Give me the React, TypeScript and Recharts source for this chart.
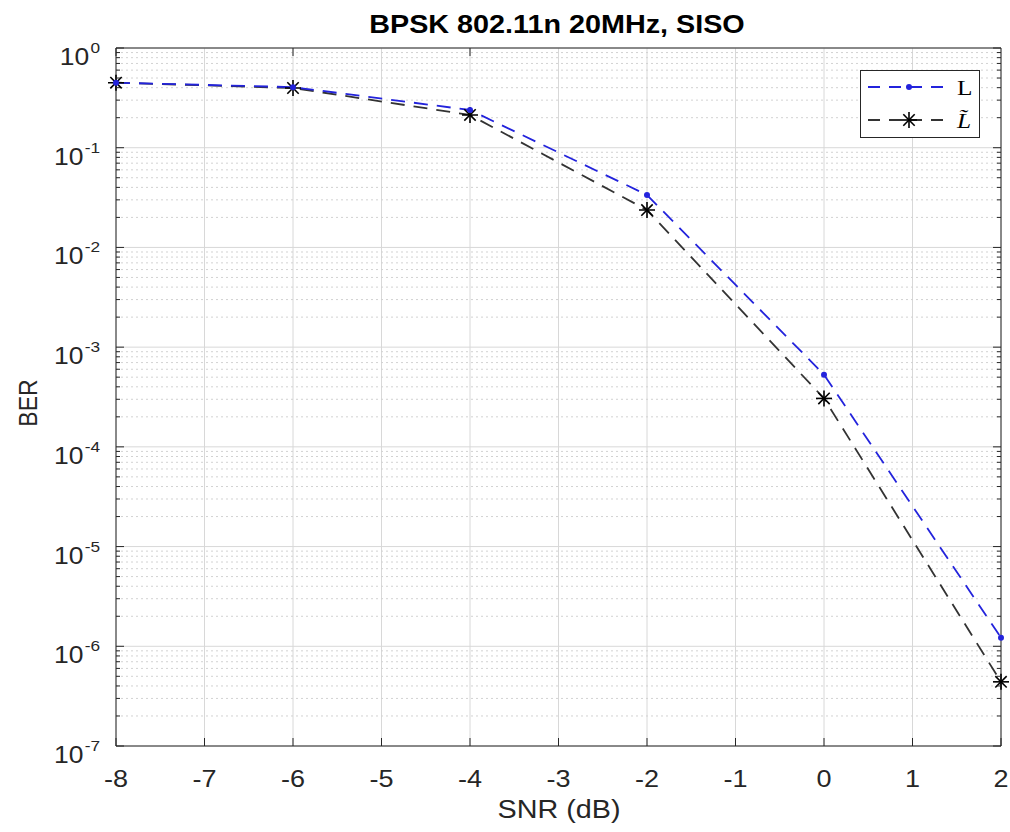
import { LineChart, Line, XAxis, YAxis, CartesianGrid, ReferenceLine } from 'recharts';

// BER vs SNR
const snr = [-8, -6, -4, -2, 0, 2];
const berL = [0.449, 0.405, 0.239, 0.0336, 5.3e-4, 1.22e-6];
const berLTilde = [0.449, 0.397, 0.213, 0.0237, 3.06e-4, 4.4e-7];

const xTicks = [-8, -7, -6, -5, -4, -3, -2, -1, 0, 1, 2];
const yMajor = [1e-7, 1e-6, 1e-5, 1e-4, 1e-3, 1e-2, 1e-1, 1];
const mantissas = [2, 3, 4, 5, 6, 7, 8, 9];
const yMinor = yMajor.slice(0, -1).flatMap((d) => mantissas.map((m) => m * d));
const yAll = [...yMajor, ...yMinor];

const data = snr.map((s, i) => ({ snr: s, L: berL[i], Lt: berLTilde[i] }));

const W = 1010, H = 832;
const LEFT = 116, RIGHT = 1001, TOP = 48, BOTTOM = 746;
const FONT = '"Liberation Sans", Arial, Helvetica, sans-serif';
const SERIF = '"Liberation Serif", "Times New Roman", serif';
const AX = '#262626';
const BLUE = '#2323dc';
const DASH = '14 9';
const SX = 1.15; // the figure's text is a bit wider than tall

const isMajor = (v: number) => Math.abs(Math.log10(v) - Math.round(Math.log10(v))) < 1e-9;

const LeftTick = ({ y, payload }: any) => {
  const v = payload.value;
  const major = isMajor(v);
  return (
    <g>
      <line x1={LEFT} x2={LEFT + (major ? 8 : 4)} y1={y} y2={y} stroke={AX} />
      {major && (
        <text transform={`translate(${LEFT - 16} ${y + 17}) scale(${SX} 1)`} textAnchor="end" fontFamily={FONT} fontSize={23} fill={AX}>
          10<tspan dy={-12} dx={1} fontSize={15}>{Math.round(Math.log10(v))}</tspan>
        </text>
      )}
    </g>
  );
};

const RightTick = ({ y, payload }: any) => {
  const major = isMajor(payload.value);
  return <line x1={RIGHT} x2={RIGHT - (major ? 8 : 4)} y1={y} y2={y} stroke={AX} />;
};

const BottomTick = ({ x, payload }: any) => (
  <g>
    <line x1={x} x2={x} y1={BOTTOM} y2={BOTTOM - 8} stroke={AX} />
    <text transform={`translate(${x} 787) scale(${SX} 1)`} textAnchor="middle" fontFamily={FONT} fontSize={23.5} fill={AX}>{payload.value}</text>
  </g>
);

const TopTick = ({ x }: any) => <line x1={x} x2={x} y1={TOP} y2={TOP + 8} stroke={AX} />;

const Star = ({ cx, cy }: any) => {
  if (cx == null || cy == null) return null;
  const r = 8, d = 5.7;
  return (
    <g stroke="#000" strokeWidth={1.6}>
      <line x1={cx - r} x2={cx + r} y1={cy} y2={cy} />
      <line x1={cx} x2={cx} y1={cy - r} y2={cy + r} />
      <line x1={cx - d} x2={cx + d} y1={cy - d} y2={cy + d} />
      <line x1={cx - d} x2={cx + d} y1={cy + d} y2={cy - d} />
    </g>
  );
};

const Dot = ({ cx, cy }: any) => {
  if (cx == null || cy == null) return null;
  return <circle cx={cx} cy={cy} r={3} fill={BLUE} />;
};

export default function App() {
  return (
    <div style={{ position: 'absolute', left: 0, top: 0, width: W, height: H, background: '#fff' }}>
      <LineChart width={W} height={H} data={data} margin={{ top: TOP - 1, right: W - RIGHT - 1, bottom: 0, left: 0 }}>
        {yMinor.map((v) => (
          <ReferenceLine key={'mn' + v} y={v} stroke="#d2d2d2" strokeDasharray="2 3" />
        ))}
        {yMajor.map((v) => (
          <ReferenceLine key={'mj' + v} y={v} stroke="#d8d8d8" />
        ))}
        <CartesianGrid horizontal={false} stroke="#d8d8d8" />
        <XAxis
          dataKey="snr"
          type="number"
          domain={[-8, 2]}
          ticks={xTicks}
          interval={0}
          height={H - BOTTOM}
          tickLine={false}
          tick={<BottomTick />}
          axisLine={{ stroke: AX }}
        />
        <XAxis
          xAxisId="top"
          orientation="top"
          type="number"
          domain={[-8, 2]}
          ticks={xTicks}
          interval={0}
          height={1}
          tickLine={false}
          tick={<TopTick />}
          axisLine={{ stroke: AX }}
        />
        <YAxis
          scale="log"
          type="number"
          domain={[1e-7, 1]}
          allowDataOverflow
          ticks={yAll}
          interval={0}
          width={LEFT}
          tickLine={false}
          tick={<LeftTick />}
          axisLine={{ stroke: AX }}
        />
        <YAxis
          yAxisId="right"
          orientation="right"
          scale="log"
          type="number"
          domain={[1e-7, 1]}
          allowDataOverflow
          ticks={yAll}
          interval={0}
          width={1}
          tickLine={false}
          tick={<RightTick />}
          axisLine={{ stroke: AX }}
        />
        <Line
          dataKey="Lt"
          stroke="#333"
          strokeWidth={1.8}
          strokeDasharray={DASH}
          dot={<Star />}
          activeDot={false}
          isAnimationActive={false}
        />
        <Line
          dataKey="L"
          stroke={BLUE}
          strokeWidth={1.8}
          strokeDasharray={DASH}
          dot={<Dot />}
          activeDot={false}
          isAnimationActive={false}
        />
      </LineChart>
      <svg width={W} height={H} style={{ position: 'absolute', left: 0, top: 0, pointerEvents: 'none' }}>
        <text transform={`translate(557 33) scale(${SX} 1)`} textAnchor="middle" fontFamily={FONT} fontSize={25} fontWeight="bold" fill="#000">
          BPSK 802.11n 20MHz, SISO
        </text>
        <text transform={`translate(559 818) scale(${SX} 1)`} textAnchor="middle" fontFamily={FONT} fontSize={25} fill={AX}>SNR (dB)</text>
        <text transform={`translate(37 403) scale(${SX} 1) rotate(-90)`} textAnchor="middle" fontFamily={FONT} fontSize={23} fill={AX}>BER</text>
        <g transform="translate(860,70)">
          <rect x={0.5} y={0.5} width={119} height={67} fill="#fff" stroke={AX} />
          <line x1={8} x2={90} y1={17} y2={17} stroke={BLUE} strokeWidth={1.8} strokeDasharray="12 9" />
          <circle cx={49} cy={17} r={3} fill={BLUE} />
          <text transform={`translate(97 25) scale(${SX} 1)`} fontFamily={SERIF} fontSize={22} fill="#000">L</text>
          <line x1={8} x2={90} y1={50} y2={50} stroke="#333" strokeWidth={1.8} strokeDasharray="12 9" />
          <Star cx={49} cy={50} />
          <text transform={`translate(97 58) scale(${SX} 1)`} fontFamily={SERIF} fontStyle="italic" fontSize={22} fill="#000">{'L\u0303'}</text>
        </g>
      </svg>
    </div>
  );
}
